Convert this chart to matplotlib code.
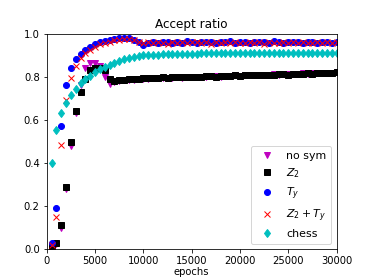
import numpy as np
import matplotlib
matplotlib.use('Agg')
import matplotlib.pyplot as plt

# epochs at which the accept ratio was sampled
epochs = np.arange(500, 30001, 500)

no_sym = [0.01, 0.025, 0.10, 0.28, 0.48, 0.63, 0.76, 0.84, 0.865, 0.865,
          0.85, 0.80, 0.765, 0.775, 0.78, 0.783, 0.785, 0.787, 0.79, 0.79,
          0.79, 0.793, 0.795, 0.792, 0.796, 0.795, 0.798, 0.796, 0.799, 0.80,
          0.798, 0.801, 0.80, 0.802, 0.804, 0.801, 0.805, 0.803, 0.806, 0.805,
          0.807, 0.806, 0.809, 0.808, 0.81, 0.807, 0.811, 0.81, 0.812, 0.811,
          0.813, 0.812, 0.815, 0.813, 0.816, 0.815, 0.817, 0.816, 0.818, 0.82]

z2 = [0.014, 0.03, 0.11, 0.29, 0.495, 0.64, 0.73, 0.79, 0.83, 0.84,
      0.84, 0.83, 0.79, 0.78, 0.785, 0.785, 0.788, 0.79, 0.79, 0.792,
      0.793, 0.795, 0.794, 0.797, 0.796, 0.798, 0.797, 0.80, 0.798, 0.80,
      0.801, 0.799, 0.802, 0.803, 0.801, 0.804, 0.803, 0.805, 0.806, 0.804,
      0.807, 0.806, 0.808, 0.809, 0.807, 0.81, 0.809, 0.811, 0.812, 0.81,
      0.813, 0.812, 0.814, 0.815, 0.813, 0.816, 0.817, 0.815, 0.818, 0.82]

ty = [0.03, 0.19, 0.57, 0.76, 0.84, 0.88, 0.905, 0.925, 0.94, 0.952,
      0.96, 0.966, 0.972, 0.976, 0.978, 0.98, 0.978, 0.972, 0.962, 0.945,
      0.958, 0.962, 0.955, 0.96, 0.963, 0.957, 0.961, 0.958, 0.964, 0.96,
      0.956, 0.962, 0.959, 0.963, 0.957, 0.961, 0.96, 0.964, 0.958, 0.962,
      0.96, 0.957, 0.963, 0.959, 0.961, 0.958, 0.964, 0.96, 0.957, 0.962,
      0.959, 0.963, 0.958, 0.961, 0.96, 0.957, 0.963, 0.96, 0.958, 0.962]

z2_ty = [0.02, 0.148, 0.483, 0.69, 0.795, 0.85, 0.885, 0.91, 0.925, 0.94,
         0.95, 0.955, 0.962, 0.968, 0.972, 0.975, 0.975, 0.97, 0.962, 0.955,
         0.96, 0.955, 0.962, 0.958, 0.953, 0.96, 0.957, 0.962, 0.955, 0.959,
         0.961, 0.956, 0.96, 0.954, 0.962, 0.957, 0.959, 0.955, 0.961, 0.958,
         0.956, 0.962, 0.957, 0.96, 0.954, 0.961, 0.958, 0.956, 0.962, 0.957,
         0.96, 0.955, 0.961, 0.958, 0.956, 0.96, 0.957, 0.962, 0.958, 0.96]

chess = [0.40, 0.555, 0.63, 0.68, 0.715, 0.745, 0.77, 0.79, 0.805, 0.82,
         0.835, 0.845, 0.855, 0.865, 0.875, 0.882, 0.888, 0.893, 0.897, 0.90,
         0.901, 0.902, 0.903, 0.904, 0.905, 0.905, 0.906, 0.906, 0.907, 0.907,
         0.907, 0.908, 0.908, 0.908, 0.908, 0.909, 0.909, 0.909, 0.909, 0.909,
         0.91, 0.91, 0.91, 0.91, 0.91, 0.91, 0.91, 0.911, 0.911, 0.911,
         0.911, 0.911, 0.911, 0.912, 0.912, 0.912, 0.912, 0.912, 0.912, 0.912]

fig = plt.figure(figsize=(374 / 72, 280 / 72), dpi=72)
ax = fig.add_axes([0.125, 0.11, 0.775, 0.77])

ax.plot(epochs, no_sym, 'mv', label='no sym')
ax.plot(epochs, z2, 'ks', label='$Z_2$')
ax.plot(epochs, ty, 'bo', label='$T_y$')
ax.plot(epochs, z2_ty, 'rx', label='$Z_2+T_y$')
ax.plot(epochs, chess, 'cd', label='chess')

ax.set_xlim(0, 30000)
ax.set_ylim(0, 1)
ax.set_xlabel('epochs', labelpad=1)
ax.set_title('Accept ratio')
ax.legend(loc='lower right', numpoints=1, fontsize=11)

fig.savefig('out.png', dpi=72)
